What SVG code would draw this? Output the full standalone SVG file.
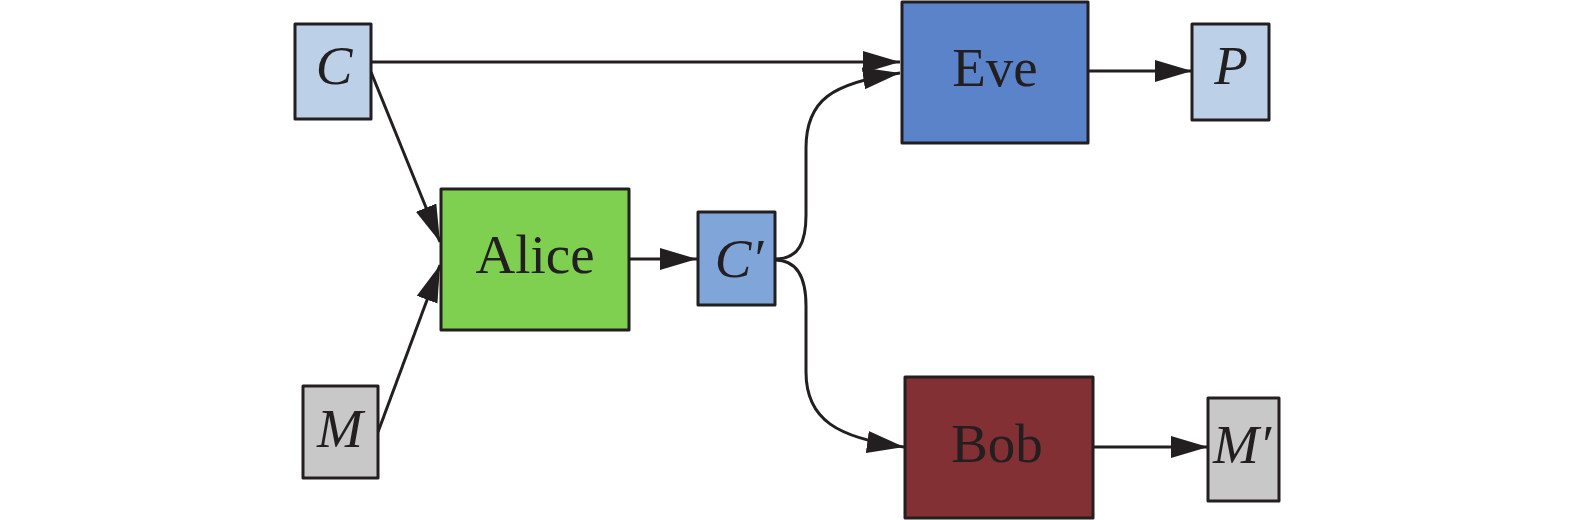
<svg xmlns="http://www.w3.org/2000/svg" width="1575" height="520" viewBox="0 0 1575 520">
<style>
.box{stroke:#231f20;stroke-width:3;stroke-linejoin:round}
.t{font-family:"Liberation Serif","Times New Roman",serif;font-size:55px;fill:#231f20;text-anchor:middle}
.i{font-style:italic}
.e{fill:none;stroke:#231f20;stroke-width:3}
</style>
<defs>
<marker id="arr" markerUnits="userSpaceOnUse" markerWidth="40" markerHeight="24" refX="37" refY="11" orient="auto">
<path d="M0,0 L37,11 L0,22 Z" fill="#231f20"/>
</marker>
</defs>
<rect width="1575" height="520" fill="#ffffff"/>
<g id="connectors">
<path class="e" d="M371,62 H900" marker-end="url(#arr)"/>
<path class="e" d="M371,72 L440,242" marker-end="url(#arr)"/>
<path class="e" d="M378,432 L440,265" marker-end="url(#arr)"/>
<path class="e" d="M629,259 H697" marker-end="url(#arr)"/>
<path class="e" d="M775,259 C799,259 806,242 806,215 V148 C806,100 832,83 900,73" marker-end="url(#arr)"/>
<path class="e" d="M775,260 C799,260 806,280 806,306 V372 C806,420 838,438 904,447" marker-end="url(#arr)"/>
<path class="e" d="M1088,71 H1192" marker-end="url(#arr)"/>
<path class="e" d="M1093,447 H1208" marker-end="url(#arr)"/>
</g>
<g id="node-C">
<rect class="box" x="295" y="24" width="76" height="95" fill="#bcd0e8"/>
<text class="t i" x="334" y="84">C</text>
</g>
<g id="node-M">
<rect class="box" x="303" y="386" width="75" height="92" fill="#c8c8c8"/>
<text class="t i" x="340" y="447">M</text>
</g>
<g id="node-Alice">
<rect class="box" x="441" y="189" width="188" height="141" fill="#7fcf50"/>
<text class="t" x="535" y="273">Alice</text>
</g>
<g id="node-Cprime">
<rect class="box" x="698" y="212" width="77" height="93" fill="#80a6d9"/>
<text class="t i" x="739" y="277">C′</text>
</g>
<g id="node-Eve">
<rect class="box" x="902" y="2" width="186" height="141" fill="#5a83ca"/>
<text class="t" x="995" y="86">Eve</text>
</g>
<g id="node-P">
<rect class="box" x="1192" y="24" width="77" height="96" fill="#bcd0e8"/>
<text class="t i" x="1231" y="84">P</text>
</g>
<g id="node-Bob">
<rect class="box" x="905" y="377" width="188" height="141" fill="#833035"/>
<text class="t" x="997" y="462">Bob</text>
</g>
<g id="node-Mprime">
<rect class="box" x="1208" y="398" width="71" height="103" fill="#c8c8c8"/>
<text class="t i" x="1242" y="463">M′</text>
</g>
</svg>
